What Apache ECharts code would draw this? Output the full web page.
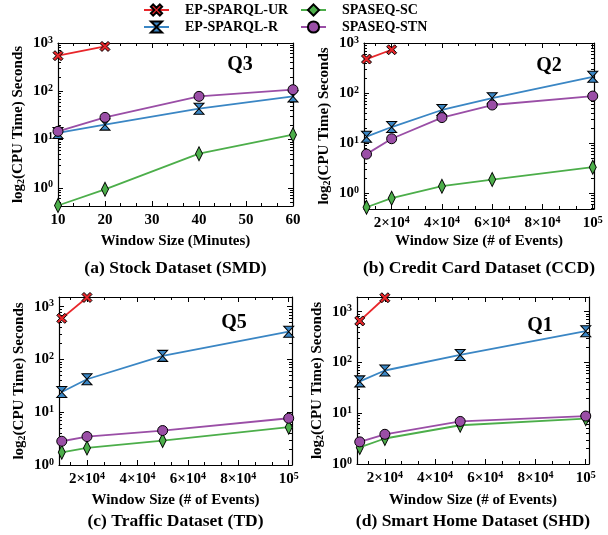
<!DOCTYPE html>
<html>
<head>
<meta charset="utf-8">
<script src="https://cdn.jsdelivr.net/npm/echarts@6/dist/echarts.min.js"></script>
<style>
  html, body { margin: 0; padding: 0; background: #fff; }
  #chart { width: 608px; height: 535px; }
</style>
</head>
<body>
<div id="chart"></div>
<script>
// Series shown in every panel
const seriesNames = ['EP-SPARQL-UR', 'EP-SPARQL-R', 'SPASEQ-SC', 'SPASEQ-STN'];

// (a) Stock Dataset (SMD), query Q3 — window size in minutes
const smdWindows = [10, 20, 40, 60];
const smdUR = [546, 850];
const smdR = [13.7, 20.4, 43.6, 78.5];
const smdSC = [0.43, 0.93, 5.1, 12.6];
const smdSTN = [14.8, 28.8, 78.5, 108];

// (b) Credit Card Dataset (CCD), query Q2 — window size in events
const ccdWindows = [10000, 20000, 40000, 60000, 100000];
const ccdUR = [478, 733];
const ccdR = [13.4, 20.9, 45.8, 79, 211];
const ccdSC = [0.52, 0.79, 1.37, 1.86, 3.3];
const ccdSTN = [6.0, 12.2, 32.3, 57.6, 87];

// (c) Traffic Dataset (TD), query Q5
const tdWindows = [10000, 20000, 50000, 100000];
const tdUR = [603, 1500];
const tdR = [24.2, 42.2, 117, 336];
const tdSC = [1.74, 2.11, 2.9, 5.2];
const tdSTN = [2.82, 3.46, 4.5, 7.7];

// (d) Smart Home Dataset (SHD), query Q1
const shdWindows = [10000, 20000, 50000, 100000];
const shdUR = [658, 1885];
const shdR = [42.4, 69.5, 141, 414];
const shdSC = [2.12, 3.18, 5.8, 7.8];
const shdSTN = [2.73, 3.85, 6.9, 8.8];

// Tick labels
const minuteTicks = [10, 20, 30, 40, 50, 60];
const eventTicks = [20000, 40000, 60000, 80000, 100000];
const decadeTicks = [1, 10, 100, 1000];

const FONT = "'Liberation Serif','Times New Roman',serif";
const COLORS = ['#e8262a', '#3a86c4', '#4cae4a', '#9a4ea6'];
const SYMBOLS = [
  'path://M0,2L2,0L5,3L8,0L10,2L7,5L10,8L8,10L5,7L2,10L0,8L3,5Z',
  'path://M0,0L10,0L5,5L10,10L0,10L5,5Z',
  'diamond',
  'circle'
];
const SIZES = [10, [10, 11], [7, 14], 10];

const tickRich = {
  b: { fontFamily: FONT, fontWeight: 'bold', fontSize: 15, color: '#000', lineHeight: 16 },
  s: { fontFamily: FONT, fontWeight: 'bold', fontSize: 10, color: '#000', lineHeight: 10, verticalAlign: 'top' }
};

const panels = [
  { grid: { left: 58, top: 43, width: 235, height: 163 }, x: [10, 60], y: [0.42, 1001],
    xTicks: minuteTicks, xMinorStep: 10 / 3, minutes: true,
    windows: smdWindows, values: [smdUR, smdR, smdSC, smdSTN],
    query: 'Q3', qPos: [240, 65], titleY: 241, captionY: 268,
    xTitle: 'Window Size (Minutes)', caption: '(a) Stock Dataset (SMD)' },
  { grid: { left: 364, top: 43, width: 230, height: 166 }, x: [9000, 100500], y: [0.48, 1001],
    xTicks: eventTicks, xMinorStep: 20000 / 3,
    windows: ccdWindows, values: [ccdUR, ccdR, ccdSC, ccdSTN],
    query: 'Q2', qPos: [549, 66], titleY: 241.5, captionY: 268,
    xTitle: 'Window Size (# of Events)', caption: '(b) Credit Card Dataset (CCD)' },
  { grid: { left: 59, top: 297, width: 233, height: 168 }, x: [8900, 101300], y: [1, 1530],
    xTicks: eventTicks, xMinorStep: 20000 / 3,
    windows: tdWindows, values: [tdUR, tdR, tdSC, tdSTN],
    query: 'Q5', qPos: [234, 323], titleY: 500, captionY: 521,
    xTitle: 'Window Size (# of Events)', caption: '(c) Traffic Dataset (TD)' },
  { grid: { left: 357, top: 297, width: 232, height: 167 }, x: [8900, 101300], y: [1, 1950],
    xTicks: eventTicks, xMinorStep: 20000 / 3,
    windows: shdWindows, values: [shdUR, shdR, shdSC, shdSTN],
    query: 'Q1', qPos: [540, 326], titleY: 500, captionY: 521,
    xTitle: 'Window Size (# of Events)', caption: '(d) Smart Home Dataset (SHD)' }
];

function linearMinor(range, step, majors) {
  const out = [];
  const start = Math.ceil((range[0] - 1e-9) / step) * step;
  for (let v = start; v <= range[1] + 1e-9; v += step) {
    if (!majors.some(m => Math.abs(m - v) < step * 0.01)) out.push(v);
  }
  return out;
}
function logMinor(range) {
  const out = [];
  for (let e = -1; e <= 3; e++) {
    for (let k = 2; k <= 9; k++) {
      const v = k * Math.pow(10, e);
      if (v > range[0] && v < range[1]) out.push(v);
    }
  }
  return out;
}

const grids = [], xAxes = [], yAxes = [], series = [], graphics = [];

function tickAxis(base, ticks, len, showLine, label) {
  return Object.assign({
    axisLine: { show: showLine, onZero: false, lineStyle: { color: '#000', width: 1.2 } },
    axisTick: { show: true, inside: true, length: len, customValues: ticks, lineStyle: { color: '#000', width: 1 } },
    axisLabel: label || { show: false },
    splitLine: { show: false },
    minorTick: { show: false }
  }, base);
}

panels.forEach((p, gi) => {
  grids.push(Object.assign({ outerBoundsMode: 'none', containLabel: false }, p.grid));
  const xMinor = linearMinor(p.x, p.xMinorStep, p.xTicks);
  const yMajor = decadeTicks.filter(v => v >= p.y[0] && v <= p.y[1]);
  const yMinor = logMinor(p.y);
  const xFmt = p.minutes
    ? v => '{b|' + v + '}'
    : v => (v === 100000 ? '{b|10}{s|5}' : '{b|' + (v / 10000) + '×10}{s|4}');
  const xBase = pos => ({ type: 'value', gridIndex: gi, min: p.x[0], max: p.x[1], position: pos });
  const yBase = pos => ({ type: 'log', logBase: 10, gridIndex: gi, min: p.y[0], max: p.y[1], position: pos });

  const xMain = xAxes.length;
  xAxes.push(tickAxis(xBase('bottom'), p.xTicks, 5, true,
    { show: true, customValues: p.xTicks, formatter: xFmt, rich: tickRich, margin: 6 }));
  xAxes.push(tickAxis(xBase('bottom'), xMinor, 3, false));
  xAxes.push(tickAxis(xBase('top'), p.xTicks, 5, true));
  xAxes.push(tickAxis(xBase('top'), xMinor, 3, false));

  const yMain = yAxes.length;
  yAxes.push(tickAxis(yBase('left'), yMajor, 5, true,
    { show: true, customValues: yMajor, formatter: v => '{b|10}{s|' + Math.round(Math.log10(v)) + '}', rich: tickRich, margin: 5 }));
  yAxes.push(tickAxis(yBase('left'), yMinor, 3, false));
  yAxes.push(tickAxis(yBase('right'), yMajor, 5, true));
  yAxes.push(tickAxis(yBase('right'), yMinor, 3, false));

  p.values.forEach((vals, si) => {
    series.push({
      type: 'line',
      name: seriesNames[si],
      xAxisIndex: xMain,
      yAxisIndex: yMain,
      data: vals.map((v, i) => [p.windows[i], v]),
      symbol: SYMBOLS[si],
      symbolSize: SIZES[si],
      showAllSymbol: true,
      clip: true,
      lineStyle: { color: COLORS[si], width: 1.8 },
      itemStyle: { color: COLORS[si], borderColor: '#000', borderWidth: 1 },
      emphasis: { disabled: true },
      z: 2 + si
    });
  });

  const g = p.grid;
  const cx = g.left + g.width / 2;
  const cy = g.top + g.height / 2;
  graphics.push({
    type: 'text', x: p.qPos[0], y: p.qPos[1],
    style: { text: p.query, font: 'bold 20px ' + FONT, fill: '#000', align: 'center', verticalAlign: 'middle' }
  });
  graphics.push({
    type: 'text', x: cx, y: p.titleY,
    style: { text: p.xTitle, font: 'bold 15px ' + FONT, fill: '#000', align: 'center', verticalAlign: 'middle' }
  });
  graphics.push({
    type: 'text', x: cx, y: p.captionY,
    style: { text: p.caption, font: 'bold 17.5px ' + FONT, fill: '#000', align: 'center', verticalAlign: 'middle' }
  });
  graphics.push({
    type: 'text', x: g.left - 40, y: cy, rotation: Math.PI / 2,
    style: {
      text: '{n|log}{sub|2}{n|(CPU Time) Seconds}',
      align: 'center', verticalAlign: 'middle',
      rich: {
        n: { fontFamily: FONT, fontWeight: 'bold', fontSize: 15, fill: '#000', lineHeight: 16 },
        sub: { fontFamily: FONT, fontWeight: 'bold', fontSize: 10, fill: '#000', lineHeight: 16, verticalAlign: 'bottom' }
      }
    }
  });
});

const legendSpots = [[143, 3], [143, 20], [300, 3], [300, 20]];
const legends = seriesNames.map((name, i) => ({
  data: [name],
  left: legendSpots[i][0],
  top: legendSpots[i][1],
  padding: 0,
  itemWidth: 25,
  itemHeight: 14,
  selectedMode: false,
  textStyle: { fontFamily: FONT, fontWeight: 'bold', fontSize: 14, color: '#000', padding: [0, 0, 0, 11] }
}));

const chart = echarts.init(document.getElementById('chart'), null, { renderer: 'canvas' });
chart.setOption({
  animation: false,
  backgroundColor: '#fff',
  legend: legends,
  grid: grids,
  xAxis: xAxes,
  yAxis: yAxes,
  series: series,
  graphic: graphics
});
</script>
</body>
</html>
